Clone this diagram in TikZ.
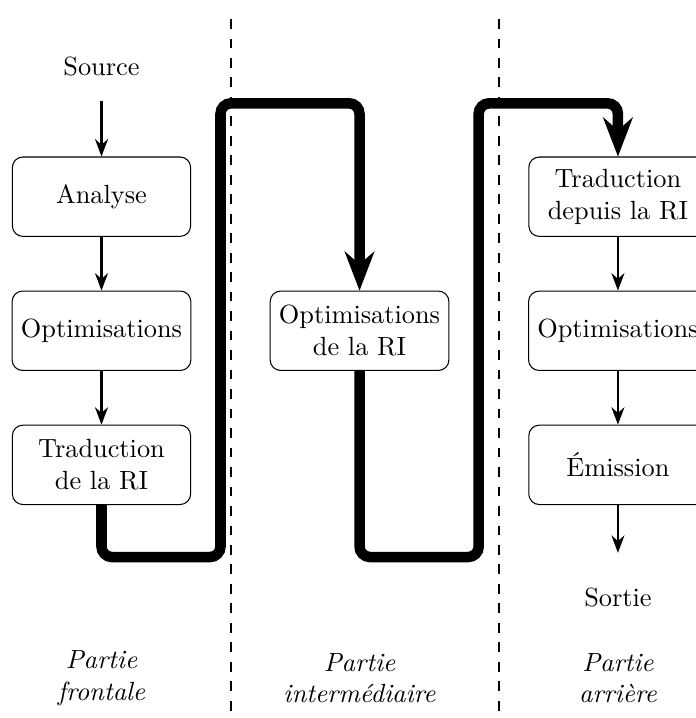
\documentclass[tikz,border=0pt]{standalone}
\usepackage{fontspec}
\usetikzlibrary{arrows, positioning, arrows.meta}

\begin{document}
\begin{tikzpicture}[node distance=1.79cm,
    etape/.style={draw, rounded corners, align=center, minimum width=2.38cm, minimum height=1.06cm},
    partie/.style={font=\itshape, align=center},
    separation/.style={dash pattern=on 3.7pt off 3.7pt},
    fleche/.style={thick, arrows = {-Stealth[scale=1]}},
    chemin/.style={line width=4pt, rounded corners=4pt,
        arrows = {-Stealth[length=15pt, width=11.5pt, inset=5pt, line width=0pt]}}]
    \useasboundingbox (0,0) rectangle (9.292,-9.586);

    % Separators
    \draw[separation] (3.084,-0.254) -- (3.084,-9.586);
    \draw[separation] (6.662,-0.254) -- (6.662,-9.586);

    % Nodes
    \node[etape] (front analyse) at (1.355,-2.626) {Analyse};
    \node[above of=front analyse, node distance=1.732cm] (source) {Source};
    \node[etape, below of=front analyse] (front optim) {Optimisations};
    \node[etape, below of=front optim] (front trad) {Traduction\\de la RI};
    \node[etape, right of=front optim, node distance=3.445cm] (mid optim) {Optimisations\\de la RI};
    \node[etape, right of=front analyse, node distance=6.895cm] (back trad) {Traduction\\depuis la RI};
    \node[etape, below of=back trad] (back optim) {Optimisations};
    \node[etape, below of=back optim] (back emit) {Émission};
    \node[below of=back emit, node distance=1.776cm] (sortie) {Sortie};
    \node[partie] (label front) at (1.355,-9.052) {Partie\\frontale};
    \node[partie] (label mid) at (4.80,-9.052) {Partie\\intermédiaire};
    \node[partie] (label back) at (8.25,-9.052) {Partie\\arrière};

    % Connections
    \draw[fleche, shorten <=2mm] (source) -- (front analyse);
    \draw[fleche] (front analyse) -- (front optim);
    \draw[fleche] (front optim) -- (front trad);
    \draw[fleche] (back trad) -- (back optim);
    \draw[fleche] (back optim) -- (back emit);
    \draw[fleche, shorten >=3.5mm] (back emit) -- (sortie);

    % Passes between the parts
    \draw[chemin] (front trad.south) |- (2.944,-7.437)
        |- (mid optim.north |- 0,-1.379) -- (mid optim);
    \draw[chemin] (mid optim.south) |- (6.391,-7.437)
        |- (back trad.north |- 0,-1.379) -- (back trad);
\end{tikzpicture}
\end{document}
